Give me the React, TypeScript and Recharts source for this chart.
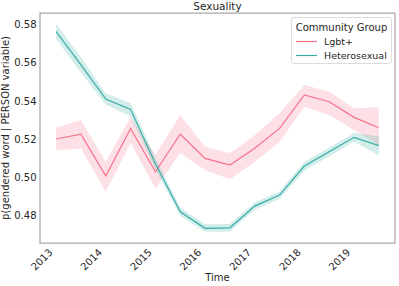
import React from 'react';
import { ComposedChart, Line, Area, XAxis, YAxis, ReferenceArea } from 'recharts';

const years = [2013, 2013.5, 2014, 2014.5, 2015, 2015.5, 2016, 2016.5, 2017, 2017.5, 2018, 2018.5, 2019, 2019.5];
const xTicks = [2013, 2014, 2015, 2016, 2017, 2018, 2019];
const yTicks = [0.48, 0.5, 0.52, 0.54, 0.56, 0.58];

const lgbtMean = [0.52, 0.5226, 0.5005, 0.5256, 0.5028, 0.5225, 0.5098, 0.5063, 0.5151, 0.5256, 0.5432, 0.5396, 0.5314, 0.5259];
const lgbtLow = [0.514, 0.515, 0.4923, 0.518, 0.494, 0.5126, 0.5037, 0.4989, 0.508, 0.5186, 0.537, 0.5326, 0.5247, 0.517];
const lgbtHigh = [0.526, 0.53, 0.508, 0.5317, 0.5116, 0.5326, 0.516, 0.5125, 0.522, 0.5335, 0.5484, 0.5449, 0.5362, 0.5367];

const heteroMean = [0.5765, 0.559, 0.541, 0.5356, 0.507, 0.4817, 0.473, 0.4733, 0.4847, 0.4905, 0.5058, 0.5133, 0.5209, 0.5165];
const heteroLow = [0.5725, 0.555, 0.538, 0.532, 0.504, 0.4795, 0.4712, 0.4713, 0.4828, 0.4885, 0.5035, 0.511, 0.5186, 0.5115];
const heteroHigh = [0.5805, 0.563, 0.544, 0.539, 0.51, 0.484, 0.4752, 0.4753, 0.4866, 0.4925, 0.508, 0.5156, 0.5232, 0.5215];

const seriesNames = ['Lgbt+', 'Heterosexual'];
const seriesColors = ['#f77189', '#36ada4'];

const X_DOMAIN: [number, number] = [2012.675, 2019.825];
const Y_DOMAIN: [number, number] = [0.4653, 0.5863];

const data = years.map((t, i) => ({
  t,
  lgbt: lgbtMean[i],
  lgbtBand: [lgbtLow[i], lgbtHigh[i]],
  hetero: heteroMean[i],
  heteroBand: [heteroLow[i], heteroHigh[i]],
}));

const FONT = '"DejaVu Sans", sans-serif';
const TEXT = '#262626';

const XTick = (props: any) => {
  const { x, y, payload } = props;
  const ax = x - 3;
  const ay = y + 10;
  return (
    <text
      x={ax}
      y={ay}
      transform={`rotate(-45, ${ax}, ${ay})`}
      textAnchor="end"
      fontSize={10}
      fontFamily={FONT}
      fill={TEXT}
    >
      {payload.value}
    </text>
  );
};

const YTick = (props: any) => {
  const { x, y, payload } = props;
  return (
    <text x={x - 3.5} y={y} dy={3.5} textAnchor="end" fontSize={10} fontFamily={FONT} fill={TEXT}>
      {Number(payload.value).toFixed(2)}
    </text>
  );
};

export default function App() {
  return (
    <div style={{ position: 'absolute', left: 0, top: 0, width: 399, height: 286, background: '#fff' }}>
      <ComposedChart width={399} height={286} data={data} margin={{ top: 13, right: 4, bottom: 0, left: 0 }}>
        <XAxis
          dataKey="t"
          type="number"
          domain={X_DOMAIN}
          ticks={xTicks}
          allowDataOverflow
          height={43}
          axisLine={false}
          tickLine={false}
          tickSize={0}
          tickMargin={0}
          tick={<XTick />}
          interval={0}
        />
        <YAxis
          type="number"
          domain={Y_DOMAIN}
          ticks={yTicks}
          allowDataOverflow
          width={40}
          axisLine={false}
          tickLine={false}
          tickSize={0}
          tickMargin={0}
          tick={<YTick />}
          interval={0}
        />
        <Area dataKey="lgbtBand" type="linear" stroke="none" fill={seriesColors[0]} fillOpacity={0.22} isAnimationActive={false} />
        <Area dataKey="heteroBand" type="linear" stroke="none" fill={seriesColors[1]} fillOpacity={0.22} isAnimationActive={false} />
        <Line dataKey="lgbt" type="linear" stroke={seriesColors[0]} strokeWidth={1.2} dot={false} isAnimationActive={false} />
        <Line dataKey="hetero" type="linear" stroke={seriesColors[1]} strokeWidth={1.2} dot={false} isAnimationActive={false} />
        <ReferenceArea
          x1={X_DOMAIN[0]}
          x2={X_DOMAIN[1]}
          y1={Y_DOMAIN[0]}
          y2={Y_DOMAIN[1]}
          fill="none"
          stroke="#a8a8a8"
          strokeWidth={1.25}
          ifOverflow="visible"
        />
      </ComposedChart>
      <svg width={399} height={286} style={{ position: 'absolute', left: 0, top: 0, pointerEvents: 'none' }}>
        <text x={217.5} y={10} textAnchor="middle" fontSize={10.5} fontFamily={FONT} fill={TEXT}>Sexuality</text>
        <text x={217.5} y={281} textAnchor="middle" fontSize={10} fontFamily={FONT} fill={TEXT}>Time</text>
        <text x={9} y={128} transform="rotate(-90, 9, 128)" textAnchor="middle" fontSize={10} fontFamily={FONT} fill={TEXT}>
          p(gendered word | PERSON variable)
        </text>
      </svg>
      <div
        style={{
          position: 'absolute',
          left: 291,
          top: 17,
          width: 99,
          height: 45,
          border: '1px solid #dcdcdc',
          borderRadius: 3,
          background: 'rgba(255,255,255,0.85)',
          fontFamily: FONT,
          color: TEXT,
        }}
      >
        <div style={{ position: 'absolute', left: 0, top: 3, width: 99, textAlign: 'center', fontSize: 10, lineHeight: '13px', whiteSpace: 'nowrap' }}>
          Community Group
        </div>
        {seriesNames.map((name, i) => (
          <div key={name} style={{ position: 'absolute', left: 4, top: 17 + i * 13.5, height: 13, display: 'flex', alignItems: 'center', whiteSpace: 'nowrap' }}>
            <svg width={22} height={13}>
              <line x1={0} x2={21} y1={6.5} y2={6.5} stroke={seriesColors[i]} strokeWidth={1.2} />
            </svg>
            <span style={{ marginLeft: 6, fontSize: 9.5, lineHeight: '13px' }}>{name}</span>
          </div>
        ))}
      </div>
    </div>
  );
}
